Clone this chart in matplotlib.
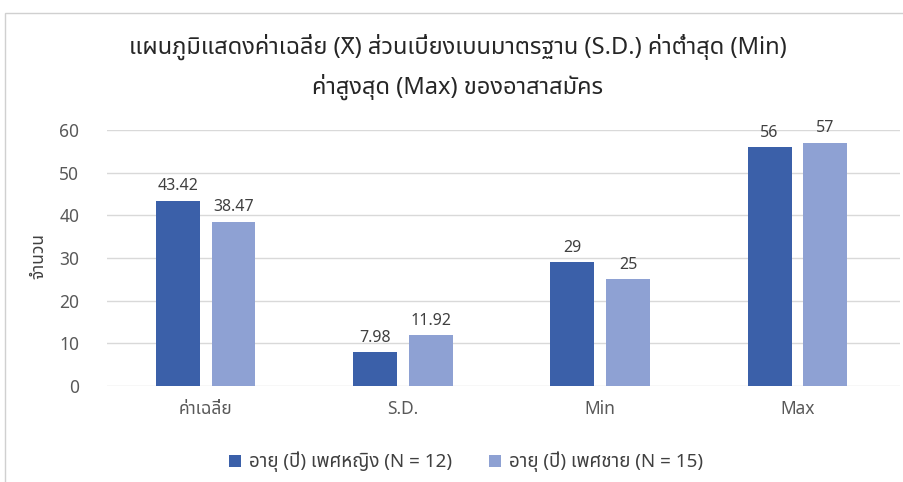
import matplotlib
matplotlib.use("Agg")
import matplotlib.pyplot as plt
from matplotlib import font_manager
from matplotlib.ft2font import FT2Font
from matplotlib.patches import Rectangle
from matplotlib.lines import Line2D
import numpy as np

categories = ["ค่าเฉลี่ย", "S.D.", "Min", "Max"]
female = [43.42, 7.98, 29, 56]
male = [38.47, 11.92, 25, 57]
female_labels = ["43.42", "7.98", "29", "56"]
male_labels = ["38.47", "11.92", "25", "57"]
series_names = ["อายุ (ปี) เพศหญิง (N = 12)", "อายุ (ปี) เพศชาย (N = 15)"]
title_pre = "แผนภูมิแสดงค่าเฉลี่ย ("
title_line1 = "แผนภูมิแสดงค่าเฉลี่ย (X) ส่วนเบี่ยงเบนมาตรฐาน (S.D.) ค่าต่ำสุด (Min)"
title_line2 = "ค่าสูงสุด (Max) ของอาสาสมัคร"
ylabel = "จำนวน"
yticks = [0, 10, 20, 30, 40, 50, 60]


def thai_family():
    # look for an installed font that has Thai glyphs
    found = []
    for path in font_manager.findSystemFonts():
        try:
            cmap = FT2Font(path).get_charmap()
        except Exception:
            continue
        if 0x0E01 in cmap and 0x0E48 in cmap:
            try:
                found.append(font_manager.FontProperties(fname=path).get_name())
            except Exception:
                pass
    pref = ["Tahoma", "Leelawadee UI", "Noto Sans Thai", "Noto Sans Thai UI", "Sarabun", "Loma", "Garuda"]
    for p in pref:
        if p in found:
            return p
    return found[0] if found else None


tf = thai_family()
fams = ([tf] if tf else []) + ["DejaVu Sans"]
plt.rcParams["font.family"] = fams

dark = "#3b60a9"
light = "#8ea1d3"
text_col = "#404040"
tick_col = "#595959"
grid_col = "#d9d9d9"
title_col = "#262626"

fig = plt.figure(figsize=(9.04, 4.82), dpi=100)
ax = fig.add_axes([107 / 904, 1 - 386 / 482, 793 / 904, 256 / 482])

x = np.arange(len(categories))
w = 0.222
gap = 0.03
b1 = ax.bar(x - w / 2 - gap, female, w, color=dark, label=series_names[0], zorder=3)
b2 = ax.bar(x + w / 2 + gap, male, w, color=light, label=series_names[1], zorder=3)

for bars, labs in ((b1, female_labels), (b2, male_labels)):
    for r, lab in zip(bars, labs):
        ax.text(r.get_x() + r.get_width() / 2, r.get_height() + 1.5, lab,
                ha="center", va="bottom", fontsize=11.5, color=text_col)

ax.set_xlim(-0.5, 3.52)
ax.set_ylim(0, 60)
ax.set_yticks(yticks)
ax.yaxis.grid(True, color=grid_col, linewidth=1, zorder=0)
ax.set_axisbelow(True)
for s in ax.spines.values():
    s.set_visible(False)
ax.tick_params(axis="both", length=0, colors=tick_col)
ax.set_yticklabels([str(v) for v in yticks], fontsize=12.5, color=tick_col)
ax.tick_params(axis="y", pad=20)
ax.set_xticks(x)
ax.set_xticklabels(categories, fontsize=12.5, color=tick_col)
ax.tick_params(axis="x", pad=10)

fig.text(38 / 904, 1 - 256 / 482, ylabel, rotation=90, ha="center", va="center",
         fontsize=12.5, fontweight="bold", color=text_col)

title_fs = 17
t1 = fig.text(458 / 904, 1 - 47 / 482, title_line1, ha="center", va="center",
              fontsize=title_fs, color=title_col)
fig.text(458 / 904, 1 - 87 / 482, title_line2, ha="center", va="center",
         fontsize=title_fs, color=title_col)

# bar over the X in the first title line (x-bar for the mean)
fig.canvas.draw()
rend = fig.canvas.get_renderer()
full = t1.get_window_extent(rend)
probe = fig.text(0, 0, title_pre, fontsize=title_fs)
w_pre = probe.get_window_extent(rend).width
probe.set_text("X")
w_x = probe.get_window_extent(rend).width
probe.remove()
x0 = full.x0 + w_pre + w_x * 0.12
x1 = full.x0 + w_pre + w_x * 0.88
ybar = full.y0 + full.height * 0.86
fig.add_artist(Line2D([x0, x1], [ybar, ybar], transform=None, color=title_col, linewidth=1.3))

fig.legend(handles=[b1, b2], loc="center", bbox_to_anchor=(466 / 904, 1 - 462 / 482),
           ncol=2, frameon=False, fontsize=13.5, handlelength=0.65, handleheight=0.65,
           handletextpad=0.4, columnspacing=2.0, labelcolor=text_col)

# light frame around the chart
fig.patches.append(Rectangle((5 / 904, -0.05), 1.0, 1 - 13 / 482 + 0.05,
                             transform=fig.transFigure, fill=False,
                             edgecolor="#d0d0d0", linewidth=1))

fig.savefig("out.png", dpi=100)
